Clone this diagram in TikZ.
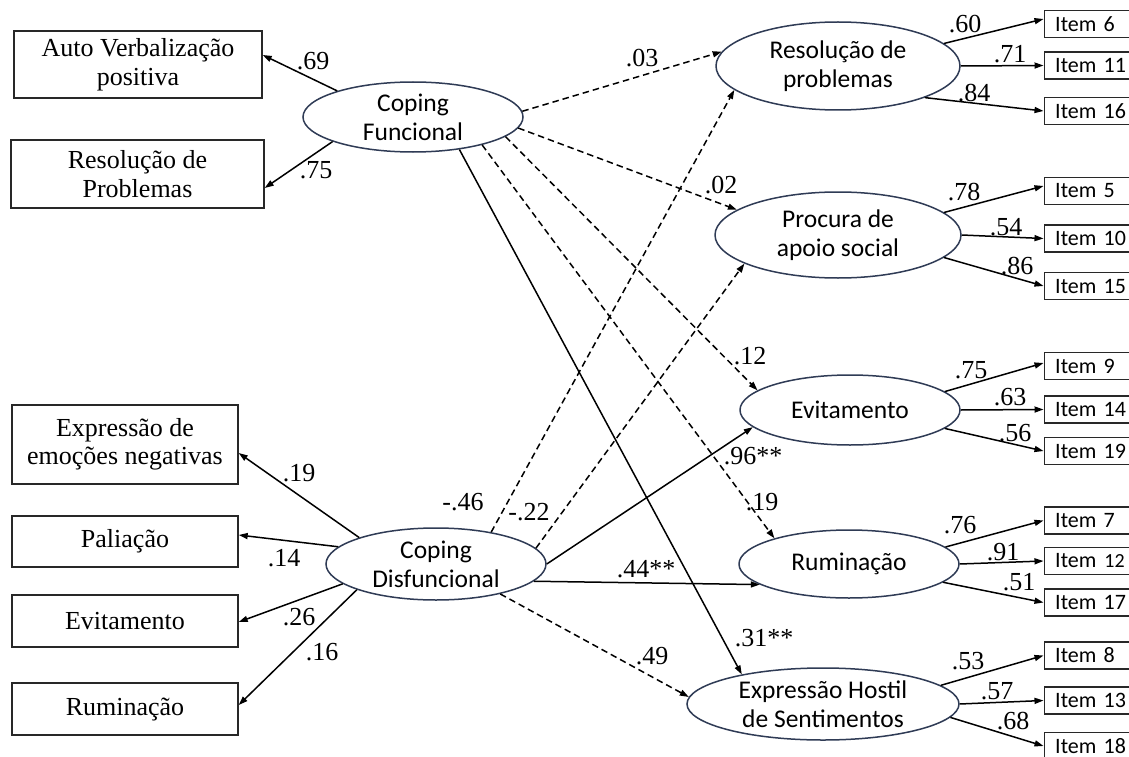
\documentclass[tikz,border=0pt]{standalone}
\usepackage{fontspec}
\setmainfont{Liberation Serif}
\newfontfamily\calib{Carlito}
\usetikzlibrary{shapes.geometric,arrows.meta}
\definecolor{latline}{RGB}{47,59,85}
\definecolor{boxline}{RGB}{40,40,40}
\begin{document}
\begin{tikzpicture}[x=1pt,y=-1pt,
  box/.style={draw=boxline,line width=1.4pt,inner sep=0pt,align=center,font=\fontsize{26}{28.5}\selectfont},
  lat/.style={ellipse,draw=latline,line width=1.5pt,inner sep=0pt},
  lattext/.style={font=\calib\fontsize{25.5}{29}\selectfont,align=center,inner sep=0pt},
  itembox/.style={draw=boxline,line width=1.4pt,minimum height=27pt,inner sep=0pt,text width=85pt,align=left,font=\calib\fontsize{22}{24}\selectfont},
  arr/.style={line width=1.5pt,-{Triangle[length=9pt,width=6pt]}},
  darr/.style={arr,dash pattern=on 6.5pt off 4pt},
  coef/.style={font=\fontsize{26}{28}\selectfont,inner sep=0pt},
]
\useasboundingbox (0,0) rectangle (1129,757);
\fill[white] (0,0) rectangle (1129,757);

% observed boxes (left)
\node[box,minimum width=248pt,minimum height=67pt] (av) at (138,64.5) {Auto Verbalização\\positiva};
\node[box,minimum width=253pt,minimum height=68pt] (rp) at (137.5,174) {Resolução de\\Problemas};
\node[box,minimum width=226pt,minimum height=79pt] (en) at (125,444.5) {Expressão de\\emoções negativas};
\node[box,minimum width=226pt,minimum height=51pt] (pal) at (125,541.5) {Paliação};
\node[box,minimum width=226pt,minimum height=52pt] (evl) at (125,621) {Evitamento};
\node[box,minimum width=226pt,minimum height=52pt] (rul) at (125,709) {Ruminação};

% latent ellipses
\node[lat,minimum width=220pt,minimum height=70pt] (cf) at (413,117) {};
\node[lattext] (cft) at (cf) {Coping\\Funcional};
\node[lat,minimum width=220pt,minimum height=72pt] (cd) at (436,564) {};
\node[lattext] (cdt) at (cd) {Coping\\Disfuncional};
\node[lat,minimum width=244pt,minimum height=88pt] (res) at (838,66) {};
\node[lattext] (rest) at (res) {Resolução de\\problemas};
\node[lat,minimum width=246pt,minimum height=86pt] (proc) at (838,235) {};
\node[lattext] (proct) at (proc) {Procura de\\apoio social};
\node[lat,minimum width=220pt,minimum height=70pt] (evi) at (850,410) {};
\node[lattext] (evit) at (evi) {Evitamento};
\node[lat,minimum width=220pt,minimum height=68pt] (rum) at (849,564) {};
\node[lattext] (rumt) at (rum) {Ruminação};
\node[lat,minimum width=272pt,minimum height=72pt] (eh) at (823,704) {};
\node[lattext] (eht) at (eh) {Expressão Hostil\\de Sentimentos};

% item boxes
\foreach \n/\y/\t in {i6/24/Item 6, i11/65.5/Item 11, i16/111/Item 16,
  i5/191/Item 5, i10/238.5/Item 10, i15/286/Item 15,
  i9/366/Item 9, i14/409.5/Item 14, i19/451/Item 19,
  i7/520.5/Item 7, i12/561/{Item\hspace{8pt}{\fontsize{20}{24}\selectfont 12}}, i17/602.5/Item 17,
  i8/655.5/Item 8, i13/700.5/Item 13, i18/746/Item 18}
  \node[itembox,anchor=west] (\n) at (1043.5,\y) {\hspace*{11pt}\t};

% loadings of second-order factors
\draw[arr] (cf.161.6) -- ([yshift=9.5pt]av.east);
\draw[arr] (cf.197.8) -- ([yshift=-14pt]rp.east);
\draw[arr] (cd.161.8) -- ([yshift=-8.5pt]en.east);
\draw[arr] (cd.170.6) -- ([yshift=6.5pt]pal.east);
\draw[arr] (cd.192) -- ([yshift=-1pt]evl.east);
\draw[arr] (cd.198.4) -- ([yshift=4pt]rul.east);

% structural paths
\draw[darr] (cf.3) -- (res.173);
\draw[darr] (cf.-6) -- (proc.166);
\draw[darr] (cf.-12.5) -- (evi.168);
\draw[darr] (cf.-22.7) -- (rum.161);
\draw[arr] (cf.-35) -- (eh.160);
\draw[darr] (cd.30.6) -- (res.-167);
\draw[darr] (cd.9.4) -- (proc.-163.3);
\draw[arr] (cd.0) -- (evi.-170.6);
\draw[arr] (cd.-10.5) -- (rum.-167.5);
\draw[darr] (cd.-25.8) -- (eh.177.5);

% item loadings
\draw[arr] (res.12) -- ([yshift=5pt]i6.west);
\draw[arr] (res.0) -- (i11.west);
\draw[arr] (res.-20) -- (i16.west);
\draw[arr] (proc.12) -- ([yshift=5pt]i5.west);
\draw[arr] (proc.0) -- (i10.west);
\draw[arr] (proc.-12) -- (i15.west);
\draw[arr] (evi.11) -- ([yshift=3pt]i9.west);
\draw[arr] (evi.0) -- (i14.west);
\draw[arr] (evi.-11) -- (i19.west);
\draw[arr] (rum.10) -- (i7.west);
\draw[arr] (rum.0) -- (i12.west);
\draw[arr] (rum.-11) -- (i17.west);
\draw[arr] (eh.9) -- (i8.west);
\draw[arr] (eh.0) -- (i13.west);
\draw[arr] (eh.-6) -- (i18.west);

% coefficients
\node[coef] (k1) at (313,61) {.69};
\node[coef] (k2) at (316,170) {.75};
\node[coef] (k3) at (299,473) {.19};
\node[coef] (k4) at (284,558) {.14};
\node[coef] (k5) at (299,617) {.26};
\node[coef] (k6) at (322,652) {.16};
\node[coef] (k7) at (463,502) {-.46};
\node[coef] (k8) at (529,512) {-.22};
\node[coef] (k9) at (646,569) {.44**};
\node[coef] (k10) at (652,656) {.49};
\node[coef] (k11) at (753,456) {.96**};
\node[coef] (k12) at (750,356) {.12};
\node[coef] (k13) at (762,502) {.19};
\node[coef] (k14) at (764,638) {.31**};
\node[coef] (k15) at (642,58) {.03};
\node[coef] (k16) at (721,185) {.02};
\node[coef] (k17) at (965,24) {.60};
\node[coef] (k18) at (1010,54) {.71};
\node[coef] (k19) at (974,93) {.84};
\node[coef] (k20) at (964,192) {.78};
\node[coef] (k21) at (1006,227) {.54};
\node[coef] (k22) at (1017,266) {.86};
\node[coef] (k23) at (971,370) {.75};
\node[coef] (k24) at (1010,397) {.63};
\node[coef] (k25) at (1015,433) {.56};
\node[coef] (k26) at (960,525) {.76};
\node[coef] (k27) at (1003,552) {.91};
\node[coef] (k28) at (1019,582) {.51};
\node[coef] (k29) at (968,661) {.53};
\node[coef] (k30) at (997,691) {.57};
\node[coef] (k31) at (1013,721) {.68};
\end{tikzpicture}
\end{document}
